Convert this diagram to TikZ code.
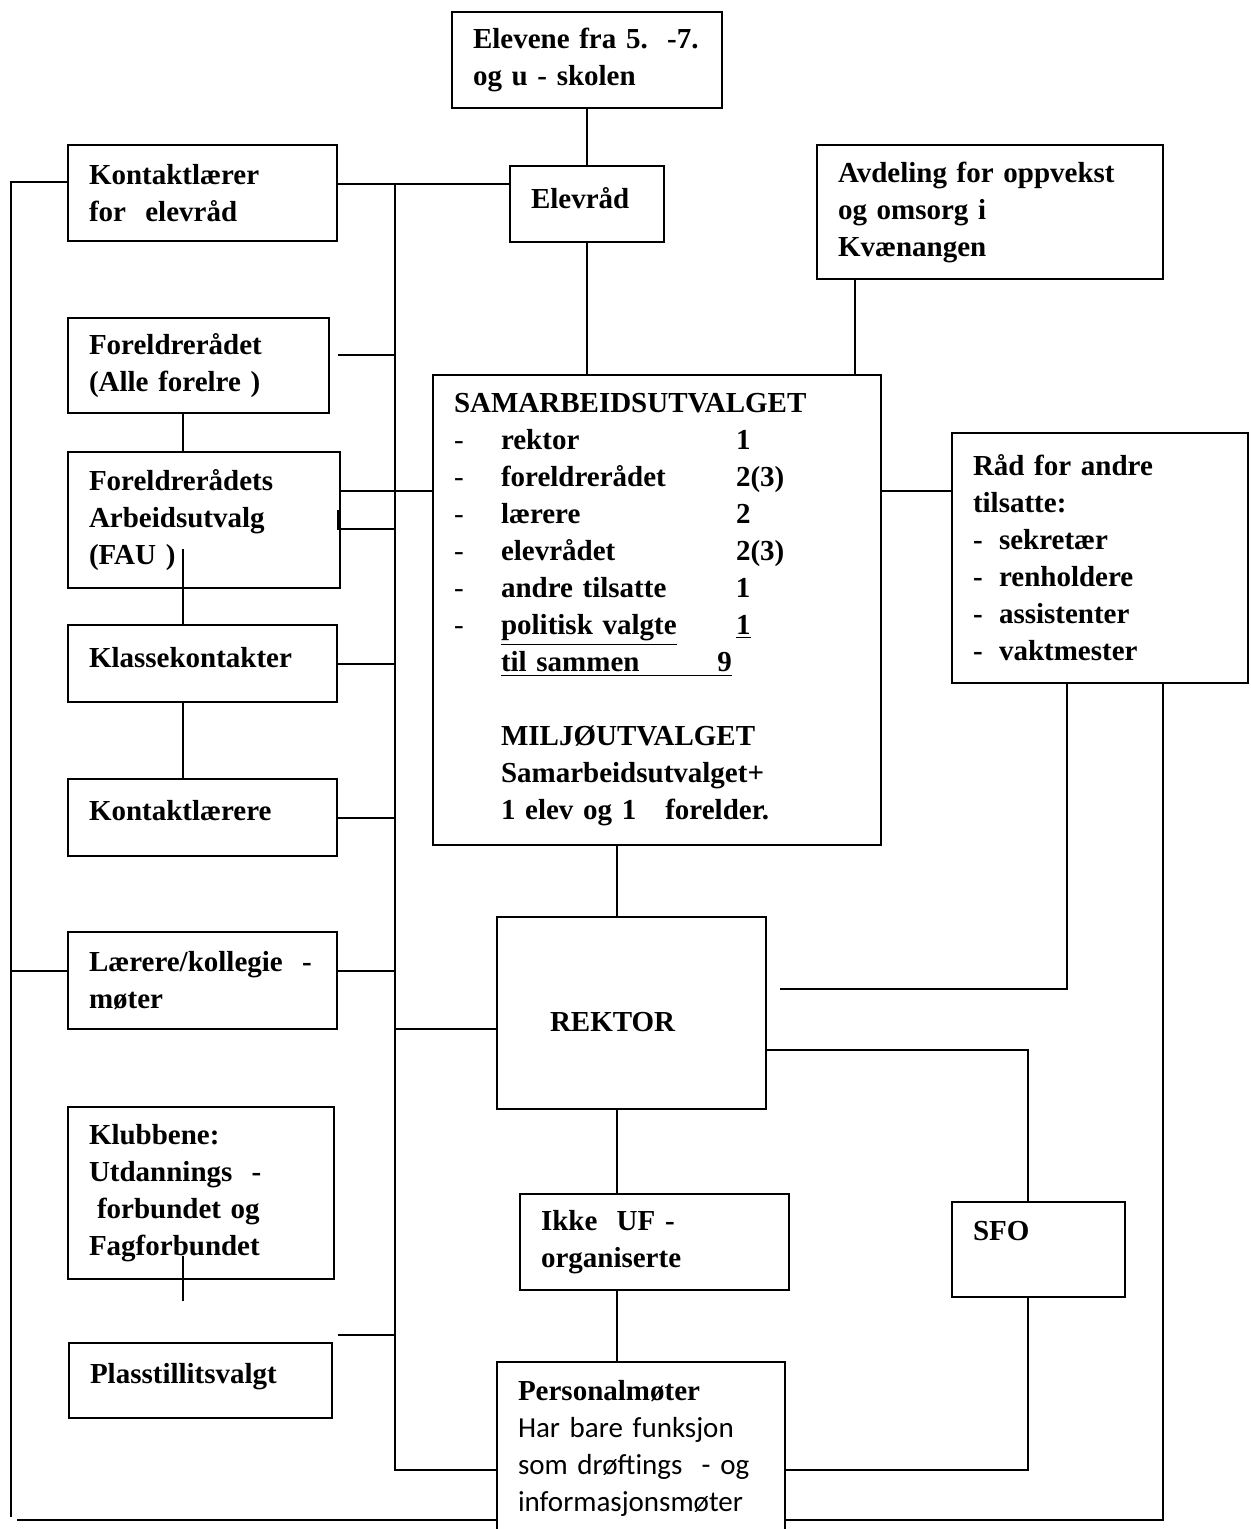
\documentclass[tikz,border=0pt]{standalone}
\usepackage{fontspec}
\setmainfont{Liberation Serif}
\newfontfamily\calibrifont{Carlito}
\usetikzlibrary{calc}
\tikzset{
  base/.style={font=\fontsize{14.5}{18.5}\selectfont\bfseries, align=left},
  box/.style={base, rectangle, draw, line width=1pt, inner xsep=10.5pt, inner ysep=0pt},
  link/.style={line width=1pt},
}
\newcommand{\suline}[2]{\makebox[23.5pt][l]{\mdseries-}\makebox[117.5pt][l]{#1}#2}
\newcommand{\suindent}{\hspace*{23.5pt}}
\newcommand{\raddash}[1]{\makebox[13pt][l]{-}#1}

\begin{document}
\begin{tikzpicture}[x=0.5pt,y=-0.5pt]
  \useasboundingbox (0,0) rectangle (1250,1529);
  % pupils and student council
  \node[box, text width=114pt, minimum height=48pt] (elevene) at (587,60) {Elevene fra 5.~~-7.\\og u - skolen};
  \node[box, text width=56pt, minimum height=38pt, text depth=6pt] (elevrad) at (587,204) {Elevråd};
  \node[box, text width=113.5pt, minimum height=48pt] (kle) at (202.5,193) {Kontaktlærer\\for~ elevråd};
  \node[box, text width=152pt, minimum height=67pt] (avd) at (990,212) {Avdeling for oppvekst\\og omsorg i\\Kvænangen};
  % left column
  \node[box, text width=109.5pt, minimum height=47.5pt] (fr) at (198.5,365.5) {Foreldrerådet\\(Alle forelre~)};
  \node[box, text width=115pt, minimum height=68pt] (fau) at (204,520) {Foreldrerådets\\Arbeidsutvalg\\(FAU )};
  \node[box, text width=113.5pt, minimum height=38.5pt, text depth=6.5pt] (kk) at (202.5,663.5) {Klassekontakter};
  \node[box, text width=113.5pt, minimum height=38.5pt, text depth=7pt] (kl) at (202.5,817.5) {Kontaktlærere};
  \node[box, text width=113.5pt, minimum height=48.5pt] (lk) at (202.5,980.5) {Lærere/kollegie~~-\\møter};
  \node[box, text width=112pt, minimum height=86pt] (klubb) at (201,1193) {Klubbene:\\Utdannings~ -\\\hspace*{4pt}forbundet og\\Fagforbundet};
  \node[box, text width=110.5pt, minimum height=37.5pt, text depth=7pt] (plass) at (200.5,1380.5) {Plasstillitsvalgt};
  % middle column
  \node[box, text width=203pt, minimum height=235pt] (su) at (657,610) {%
    SAMARBEIDSUTVALGET\\
    \suline{rektor}{1}\\
    \suline{foreldrerådet}{2(3)}\\
    \suline{lærere}{2}\\
    \suline{elevrådet}{2(3)}\\
    \suline{andre tilsatte}{1}\\
    \suline{\underline{politisk valgte}}{\underline{1}}\\
    \suindent\underline{\makebox[115.5pt][l]{til sammen\hfill 9}}\\[18.5pt]
    \suindent MILJØUTVALGET\\
    \suindent Samarbeidsutvalget+\\
    \suindent 1 elev og 1~~ forelder.};
  \node[box, inner xsep=26.5pt, text width=81.5pt, minimum height=96pt, text height=18.6pt] (rek) at (631.5,1013) {REKTOR};
  \node[box, text width=113.5pt, minimum height=48pt] (ikke) at (654.5,1242) {Ikke~~UF -\\organiserte};
  \node[box, text width=123pt, minimum height=86pt] (pm) at (641,1448) {Personalmøter\\\calibrifont\mdseries Har bare funksjon\\som drøftings~ - og\\informasjonsmøter};
  % right column
  \node[box, text width=127pt, minimum height=125pt] (rad) at (1100,558) {Råd for andre\\tilsatte:\\\raddash{sekretær}\\\raddash{renholdere}\\\raddash{assistenter}\\\raddash{vaktmester}};
  \node[box, text width=65.5pt, minimum height=47.5pt] (sfo) at (1038.5,1249.5) {SFO\\\mbox{}};

  % helper points
  \coordinate (bustop) at (395,184);
  \coordinate (lefttop) at (11,182);
  \coordinate (leftbot) at (11,1517);
  \coordinate (botleft) at (17,1520);
  \coordinate (botright) at (1163,1520);
  \coordinate (colx) at (183,0);
  \coordinate (spine) at (617,0);

  % student council links
  \draw[link] (elevene.south) -- (elevrad.north);
  \draw[link] (elevrad.south) -- (elevrad.south |- su.north);
  \draw[link] (kle.east |- bustop) -- (elevrad.west |- bustop);
  \draw[link] ([xshift=19.5pt]avd.south west) -- ([xshift=19.5pt]avd.south west |- su.north);
  % bus on the left
  \draw[link] (bustop) -- ([yshift=-11pt]pm.west -| bustop) -- ([yshift=-11pt]pm.west);
  \draw[link] ([yshift=5pt]fr.east -| kk.east) -- ([yshift=5pt]fr.east -| bustop);
  \draw[link] ([yshift=14.5pt]fau.east) -- ([yshift=14.5pt]fau.east -| su.west);
  \draw[link] ([shift={(-1.5pt,5pt)}]fau.east) -- ([shift={(-1.5pt,-4.5pt)}]fau.east) -- ([yshift=-4.5pt]fau.east -| bustop);
  \draw[link] (kk.east) -- (kk.east -| bustop);
  \draw[link] (kl.east) -- (kl.east -| bustop);
  \draw[link] ([yshift=5pt]lk.east) -- ([yshift=5pt]lk.east -| bustop);
  \draw[link] ([shift={(2.5pt,3.5pt)}]plass.north east) -- ([yshift=3.5pt]plass.north east -| bustop);
  \draw[link] ([yshift=-8pt]rek.west -| bustop) -- ([yshift=-8pt]rek.west);
  % parents column
  \draw[link] (fr.south -| colx) -- (fau.north -| colx);
  \draw[link] ($(fau.south -| colx)+(0,-40)$) -- (kk.north -| colx);
  \draw[link] (kk.south -| colx) -- (kl.north -| colx);
  \draw[link] ($(klubb.south -| colx)+(0,-24)$) -- ($(klubb.south -| colx)+(0,21)$);
  % outer frame
  \draw[link] (kle.west |- lefttop) -- (lefttop) -- (leftbot);
  \draw[link] ([yshift=5pt]lk.west) -- ([yshift=5pt]lk.west -| lefttop);
  \draw[link] (botleft) -- (botleft -| pm.west);
  \draw[link] (botright -| pm.east) -- (botright) -- (rad.south -| botright);
  % spine
  \draw[link] (su.south -| spine) -- (rek.north -| spine);
  \draw[link] (rek.south -| spine) -- (ikke.north -| spine);
  \draw[link] (ikke.south -| spine) -- (pm.north -| spine);
  % right side
  \draw[link] ([yshift=33.5pt]rad.west -| su.east) -- ([yshift=33.5pt]rad.west);
  \draw[link] ([xshift=-16.5pt]rad.south) |- ([shift={(6.5pt,12pt)}]rek.east);
  \draw[link] ([yshift=-18.5pt]rek.east) -| ([xshift=-5.25pt]sfo.north);
  \draw[link] ([xshift=-5.25pt]sfo.south) |- ([yshift=-11pt]pm.east);
\end{tikzpicture}
\end{document}
